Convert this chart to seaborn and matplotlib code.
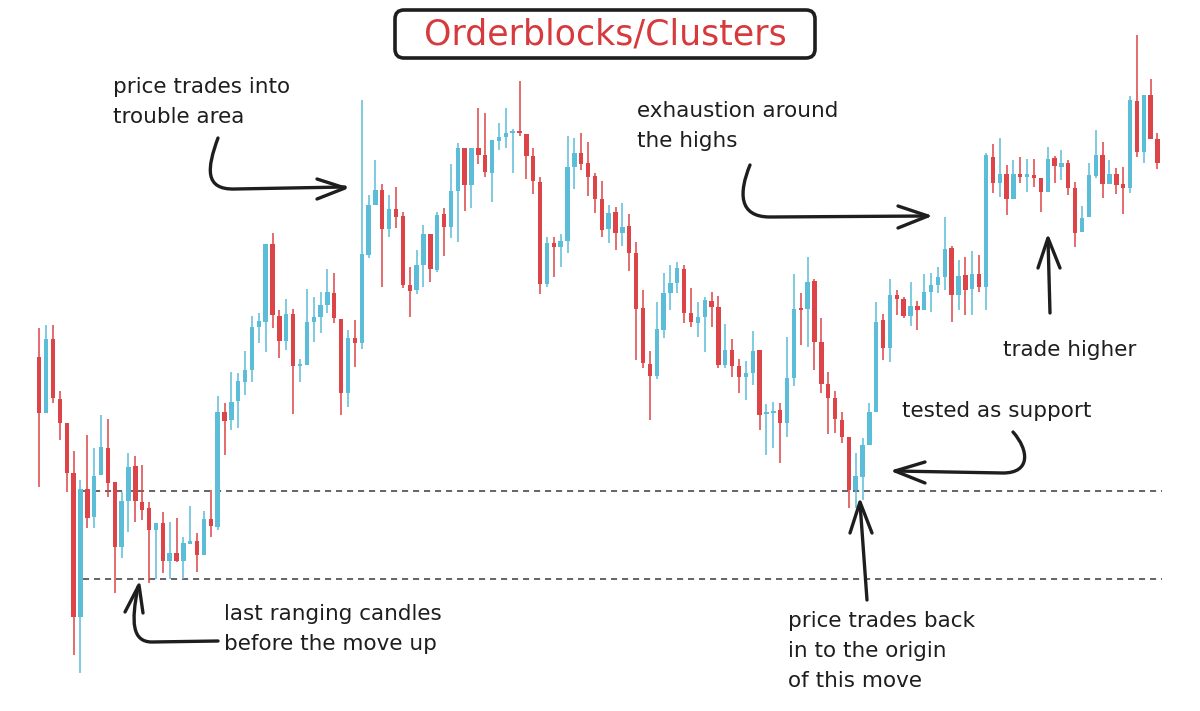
import numpy as np
import pandas as pd
import matplotlib
matplotlib.use("Agg")
import matplotlib.pyplot as plt
import seaborn as sns
from matplotlib.path import Path
from matplotlib.patches import PathPatch, FancyBboxPatch

# ---------------- data (candles, arbitrary price units) ----------------
opens = [354, 298, 372, 312, 288, 238, 94, 222, 194, 236, 263, 229, 164, 210, 245, 209, 203, 181, 188, 150,
         158, 150, 167, 170, 156, 192, 184, 299, 291, 310, 329, 341, 384, 389, 467, 395, 370, 397, 345, 346,
         389, 394, 406, 418, 392, 318, 373, 368, 456, 506, 521, 482, 502, 495, 426, 421, 446, 477, 441, 497,
         484, 520, 563, 526, 563, 556, 538, 570, 574, 578, 579, 577, 555, 529, 427, 468, 464, 470, 544, 558,
         548, 535, 512, 482, 499, 478, 485, 458, 403, 347, 335, 381, 418, 428, 442, 398, 388, 394, 410, 404,
         346, 361, 345, 334, 338, 361, 297, 298, 301, 288, 333, 403, 402, 430, 369, 327, 313, 291, 274, 221,
         234, 266, 299, 391, 363, 416, 412, 395, 405, 401, 419, 426, 434, 463, 416, 436, 422, 437, 424, 554,
         528, 537, 512, 537, 534, 536, 533, 519, 553, 544, 548, 523, 479, 494, 535, 556, 527, 537, 527, 523,
         610, 559, 616, 572]
highs = [383, 386, 386, 320, 288, 260, 231, 276, 263, 296, 292, 229, 219, 258, 255, 246, 209, 188, 199, 189,
         193, 174, 205, 178, 200, 221, 315, 308, 339, 338, 360, 395, 398, 467, 478, 401, 412, 402, 352, 422,
         414, 419, 442, 438, 392, 381, 391, 611, 516, 551, 527, 516, 524, 499, 444, 461, 486, 477, 499, 503,
         547, 568, 563, 563, 603, 598, 571, 588, 603, 582, 630, 577, 563, 534, 474, 474, 477, 575, 573, 578,
         569, 538, 530, 506, 504, 508, 497, 469, 421, 360, 409, 438, 446, 449, 446, 423, 409, 414, 419, 415,
         387, 372, 352, 350, 380, 361, 307, 309, 308, 374, 437, 418, 454, 432, 393, 339, 320, 299, 274, 258,
         273, 308, 409, 397, 432, 421, 414, 429, 410, 437, 438, 444, 494, 465, 451, 454, 460, 456, 558, 567,
         573, 546, 551, 554, 552, 552, 533, 564, 555, 561, 551, 529, 505, 548, 581, 569, 551, 543, 544, 615,
         676, 616, 632, 578]
lows = [224, 298, 308, 271, 219, 56, 38, 183, 183, 236, 214, 118, 153, 179, 189, 191, 128, 132, 138, 132,
        149, 132, 167, 139, 156, 174, 181, 256, 281, 283, 316, 329, 368, 359, 383, 353, 361, 297, 329, 346,
        369, 378, 398, 388, 296, 304, 344, 362, 453, 506, 424, 474, 483, 423, 394, 417, 424, 429, 439, 455,
        473, 469, 500, 503, 547, 534, 509, 561, 563, 538, 575, 532, 517, 417, 424, 434, 444, 458, 522, 541,
        515, 498, 474, 468, 461, 465, 440, 351, 343, 291, 332, 373, 401, 418, 388, 384, 374, 359, 384, 343,
        343, 334, 318, 311, 326, 281, 256, 263, 248, 274, 325, 366, 364, 341, 318, 277, 278, 268, 203, 203,
        211, 266, 299, 351, 349, 396, 393, 385, 381, 401, 399, 418, 421, 389, 401, 396, 396, 419, 401, 518,
        514, 496, 512, 528, 519, 524, 499, 519, 528, 531, 516, 464, 479, 494, 533, 513, 527, 517, 497, 518,
        554, 548, 572, 542]
closes = [298, 372, 313, 288, 238, 94, 222, 193, 235, 264, 228, 164, 210, 244, 210, 201, 181, 188, 150, 158,
          150, 168, 170, 156, 192, 185, 299, 290, 309, 330, 341, 384, 390, 467, 396, 370, 397, 345, 346, 389,
          394, 406, 419, 393, 318, 373, 368, 457, 506, 521, 482, 502, 494, 426, 420, 446, 477, 442, 496, 484,
          520, 563, 526, 563, 556, 539, 571, 574, 578, 579, 578, 555, 530, 427, 468, 464, 470, 544, 558, 547,
          534, 512, 481, 498, 478, 484, 458, 402, 348, 335, 382, 418, 428, 443, 398, 389, 394, 411, 404, 346,
          361, 345, 334, 338, 360, 296, 298, 300, 288, 333, 402, 401, 429, 369, 327, 313, 292, 274, 221, 235,
          266, 299, 389, 363, 416, 412, 395, 405, 401, 419, 426, 434, 462, 416, 435, 421, 437, 424, 556, 528,
          537, 512, 537, 534, 537, 533, 519, 552, 545, 548, 523, 478, 493, 536, 556, 527, 537, 526, 523, 611,
          559, 616, 572, 548]
levels = [220, 132]  # dashed origin / support levels

title = "Orderblocks/Clusters"
notes = {
    "trouble": ["price trades into", "trouble area"],
    "exhaust": ["exhaustion around", "the highs"],
    "higher": ["trade higher"],
    "support": ["tested as support"],
    "ranging": ["last ranging candles", "before the move up"],
    "origin": ["price trades back", "in to the origin", "of this move"],
}

df = pd.DataFrame({"open": opens, "high": highs, "low": lows, "close": closes})
df["idx"] = np.arange(len(df))
df["up"] = df["close"] >= df["open"]

# ---------------- styling ----------------
sns.set_theme(style="white")
plt.rcParams["font.family"] = ["DejaVu Sans"]
BLUE = "#5BBDD7"
RED = "#DC4447"
INK = "#1e1e1e"

W, H = 1200, 711
fig = plt.figure(figsize=(W / 100, H / 100), dpi=100)
fig.patch.set_facecolor("white")

ax = fig.add_axes([0, 0, 1, 1])
step = 6.86
x0 = 39.3
ax.set_xlim(-x0 / step, (W - x0) / step)
ax.set_ylim(0, H)
ax.axis("off")

colors = np.where(df["up"], BLUE, RED)
ax.vlines(df["idx"], df["low"], df["high"], colors=colors, lw=1.1, zorder=2)
body_lo = np.minimum(df["open"], df["close"])
body_h = np.maximum(np.abs(df["close"] - df["open"]), 1.6)
ax.bar(df["idx"], body_h, bottom=body_lo, width=0.64, color=colors, linewidth=0, zorder=3)

lx0 = (83 - x0) / step
lx1 = (1162 - x0) / step
for lv in levels:
    ax.hlines(lv, lx0, lx1, colors="#3a3a3a", lw=1.1, linestyles=(0, (4, 3.2)), zorder=1)

# ---------------- annotation overlay (pixel layout) ----------------
ov = fig.add_axes([0, 0, 1, 1], facecolor="none")
ov.set_xlim(0, W)
ov.set_ylim(H, 0)
ov.axis("off")


def stroke(verts, codes=None, lw=2.4):
    if codes is None:
        codes = [Path.MOVETO] + [Path.LINETO] * (len(verts) - 1)
    ov.add_patch(PathPatch(Path(verts, codes), fill=False, ec=INK, lw=lw,
                           capstyle="round", joinstyle="round", zorder=5))


def head(tip, a, b):
    stroke([a, tip, b])


C4 = Path.CURVE4
M, L = Path.MOVETO, Path.LINETO

# arrow: trouble area
stroke([(218, 138), (207, 168), (204, 190), (235, 189), (345, 187)], [M, C4, C4, C4, L])
head((345, 188), (317, 179), (317, 199))
# arrow: exhaustion
stroke([(750, 165), (739, 192), (738, 217), (770, 217), (928, 216)], [M, C4, C4, C4, L])
head((928, 216), (898, 206), (898, 228))
# arrow: tested as support
stroke([(1013, 432), (1029, 450), (1031, 473), (1003, 473), (895, 471)], [M, C4, C4, C4, L])
head((895, 471), (925, 462), (925, 483))
# arrow: origin (vertical)
stroke([(867, 600), (860, 503)])
head((860, 502), (850, 533), (872, 533))
# arrow: trade higher
stroke([(1050, 313), (1048, 239)])
head((1048, 238), (1038, 268), (1060, 268))
# arrow: ranging
stroke([(218, 641), (152, 642), (132, 642), (131, 622), (138, 587)], [M, L, C4, C4, C4])
head((139, 585), (125, 612), (143, 613))

# title box
ov.add_patch(FancyBboxPatch((395, 10), 420, 48, boxstyle="round,pad=0,rounding_size=9",
                            fill=False, ec=INK, lw=2.6, zorder=5))
ov.text(605, 35, title, color="#D63A3C", fontsize=25, ha="center", va="center", zorder=6)

fs = 15.5


def lines(x, y0, texts, dy=30):
    for k, t in enumerate(texts):
        ov.text(x, y0 + k * dy, t, color=INK, fontsize=fs, ha="left", va="baseline", zorder=6)


lines(113, 93, notes["trouble"])
lines(637, 117, notes["exhaust"])
lines(1003, 356, notes["higher"])
lines(902, 417, notes["support"])
lines(224, 620, notes["ranging"])
lines(788, 627, notes["origin"])

fig.savefig("out.png", dpi=100, facecolor="white")
